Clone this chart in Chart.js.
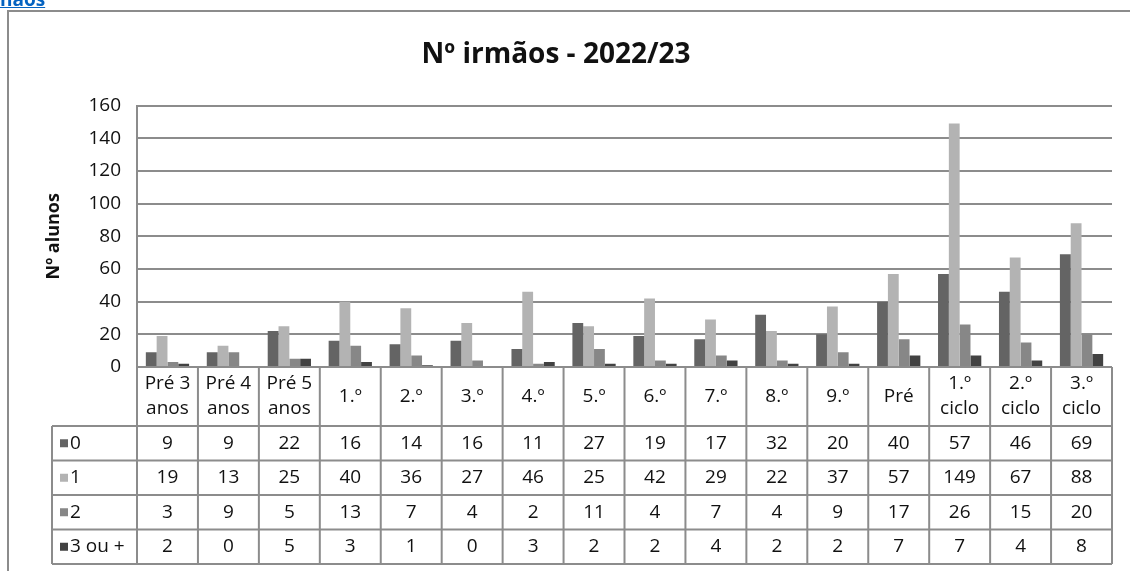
<!DOCTYPE html>
<html>
<head>
<meta charset="utf-8">
<script src="https://cdn.jsdelivr.net/npm/chart.js@4/dist/chart.umd.min.js"></script>
<style>
    body { margin: 0; background: #fff; overflow: hidden; }
    #wrap { position: relative; width: 1130px; height: 571px; overflow: hidden; }
    #link { position: absolute; left: 0; top: -14px; font: bold 19px "Open Sans", sans-serif; color: #0563C1; text-decoration: underline; }
    canvas { position: absolute; left: 0; top: 0; }
</style>
</head>
<body>
<div id="wrap">
    <canvas id="irmaosChart" width="1130" height="571"></canvas>
    <div id="link">nãos</div>
</div>
<script>
const categories = [['Pré 3', 'anos'], ['Pré 4', 'anos'], ['Pré 5', 'anos'], '1.º', '2.º', '3.º', '4.º', '5.º', '6.º', '7.º', '8.º', '9.º', 'Pré', ['1.º', 'ciclo'], ['2.º', 'ciclo'], ['3.º', 'ciclo']];
const seriesNames = ['0', '1', '2', '3 ou +'];
const irmaos0 = [9, 9, 22, 16, 14, 16, 11, 27, 19, 17, 32, 20, 40, 57, 46, 69];
const irmaos1 = [19, 13, 25, 40, 36, 27, 46, 25, 42, 29, 22, 37, 57, 149, 67, 88];
const irmaos2 = [3, 9, 5, 13, 7, 4, 2, 11, 4, 7, 4, 9, 17, 26, 15, 20];
const irmaos3 = [2, 0, 5, 3, 1, 0, 3, 2, 2, 4, 2, 2, 7, 7, 4, 8];
const seriesColors = ['#646464', '#b3b3b3', '#878787', '#424242'];
const yTicks = [0, 20, 40, 60, 80, 100, 120, 140, 160];

const allSeries = [irmaos0, irmaos1, irmaos2, irmaos3];
const lineColor = '#8c8c8c';
const textColor = '#111';
const textFont = '19px "Open Sans", sans-serif';

// outer frame of the excel chart object
var framePlugin = {
    id: 'chartFrame',
    beforeDraw: (chart) => {
        const ctx = chart.ctx;
        ctx.save();
        ctx.strokeStyle = lineColor;
        ctx.lineWidth = 2;
        ctx.beginPath();
        ctx.moveTo(8, chart.height + 2);
        ctx.lineTo(8, 11);
        ctx.lineTo(chart.width + 2, 11);
        ctx.stroke();
        ctx.restore();
    }
};

// data table under the plot, like excel's "data table" option
var dataTablePlugin = {
    id: 'dataTable',
    afterDraw: (chart) => {
        const ctx = chart.ctx;
        const x = chart.scales.x;
        const area = chart.chartArea;
        const n = categories.length;
        const colW = (x.right - x.left) / n;
        const top = area.bottom;
        const headH = 59;
        const rowH = 34.5;
        const bottom = top + headH + rowH * seriesNames.length;
        const legendLeft = 52;

        ctx.save();
        ctx.strokeStyle = lineColor;
        ctx.lineWidth = 2;
        ctx.beginPath();
        // horizontal lines
        ctx.moveTo(x.left, top);
        ctx.lineTo(x.right, top);
        for (let r = 0; r <= seriesNames.length; r++) {
            const y = top + headH + r * rowH;
            ctx.moveTo(legendLeft, y);
            ctx.lineTo(x.right, y);
        }
        // vertical lines
        for (let i = 0; i <= n; i++) {
            const xx = x.left + i * colW;
            ctx.moveTo(xx, top);
            ctx.lineTo(xx, bottom);
        }
        ctx.moveTo(legendLeft, top + headH);
        ctx.lineTo(legendLeft, bottom);
        ctx.stroke();

        ctx.fillStyle = textColor;
        ctx.font = textFont;
        ctx.textAlign = 'center';
        ctx.textBaseline = 'middle';
        categories.forEach((label, i) => {
            const cx = x.left + (i + 0.5) * colW;
            const lines = Array.isArray(label) ? label : [label];
            const lh = 25;
            const y0 = top + headH / 2 - (lines.length - 1) * lh / 2;
            lines.forEach((t, k) => ctx.fillText(t, cx, y0 + k * lh));
        });

        seriesNames.forEach((name, r) => {
            const cy = top + headH + (r + 0.5) * rowH;
            ctx.fillStyle = seriesColors[r];
            ctx.fillRect(60, cy - 4, 8, 8);
            ctx.fillStyle = textColor;
            ctx.textAlign = 'left';
            ctx.fillText(name, 70, cy);
            ctx.textAlign = 'center';
            allSeries[r].forEach((v, i) => {
                ctx.fillText(String(v), x.left + (i + 0.5) * colW, cy);
            });
        });
        ctx.restore();
    }
};

const datasets = seriesNames.map((name, i) => ({
    label: name,
    data: allSeries[i],
    backgroundColor: seriesColors[i],
    borderWidth: 0,
    categoryPercentage: 0.71,
    barPercentage: 1.0
}));

var irmaosChart = new Chart(document.getElementById('irmaosChart').getContext('2d'), {
    type: 'bar',
    data: { labels: categories, datasets: datasets },
    plugins: [framePlugin, dataTablePlugin],
    options: {
        responsive: false,
        animation: false,
        layout: { padding: { left: 0, right: 18, top: 0, bottom: 204 } },
        plugins: {
            legend: { display: false },
            tooltip: { enabled: false },
            title: {
                display: true,
                text: 'Nº irmãos - 2022/23',
                color: textColor,
                font: { family: '"Open Sans", sans-serif', size: 28, weight: 'bold' },
                padding: { top: 38, bottom: 34 }
            }
        },
        scales: {
            x: {
                display: false
            },
            y: {
                min: 0,
                max: 160,
                afterBuildTicks: (scale) => { scale.ticks = yTicks.map(v => ({ value: v })); },
                afterFit: (scale) => { scale.width = 137; },
                ticks: {
                    color: textColor,
                    font: { family: '"Open Sans", sans-serif', size: 19 },
                    padding: 16
                },
                grid: { color: lineColor, lineWidth: 2, drawTicks: false },
                border: { color: lineColor, width: 2 },
                title: {
                    display: true,
                    text: 'Nº alunos',
                    color: textColor,
                    font: { family: '"Open Sans", sans-serif', size: 18, weight: 'bold' },
                    padding: { top: 43, bottom: 0 }
                }
            }
        }
    }
});
</script>
</body>
</html>
